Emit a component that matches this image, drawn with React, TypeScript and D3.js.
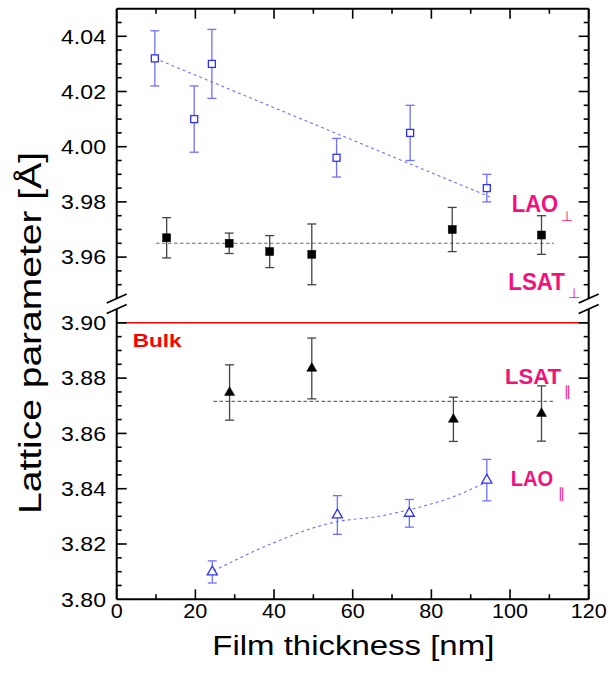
import React from "react";
import * as d3 from "d3";

// ---------- data ----------
const laoPerpX = [9.7, 19.7, 24.2, 55.9, 74.6, 94.1];
const laoPerpY = [4.032, 4.010, 4.030, 3.996, 4.005, 3.985];
const laoPerpErr = [0.010, 0.012, 0.0125, 0.007, 0.010, 0.005];
const laoPerpFitX = [9.7, 94.9];
const laoPerpFitY = [4.032, 3.9818];

const lsatPerpX = [12.7, 28.6, 38.9, 49.6, 85.3, 108];
const lsatPerpY = [3.967, 3.965, 3.962, 3.961, 3.970, 3.968];
const lsatPerpErr = [0.0073, 0.0037, 0.0058, 0.011, 0.008, 0.007];
const lsatPerpFitX = [10, 111.2];
const lsatPerpFitY = [3.965, 3.965];

const lsatParX = [28.7, 49.6, 85.6, 108];
const lsatParY = [3.8748, 3.8835, 3.8651, 3.8672];
const lsatParErr = [0.010, 0.011, 0.008, 0.010];
const lsatParFitX = [24.6, 111.2];
const lsatParFitY = [3.8716, 3.8716];

const laoParX = [24.3, 56.1, 74.4, 94.1];
const laoParY = [3.8099, 3.8305, 3.8311, 3.8431];
const laoParErr = [0.004, 0.007, 0.005, 0.0075];
const laoParFitX = [24.6, 40, 49.7, 56.1, 66.1, 74.4, 85.6, 93.5];
const laoParFitY = [3.8103, 3.8205, 3.8257, 3.8281, 3.8299, 3.8324, 3.8371, 3.842];

const bulkValue = 3.90;

const xTicks = [0, 20, 40, 60, 80, 100, 120];
const yTopTicks = [3.96, 3.98, 4.0, 4.02, 4.04];
const yBotTicks = [3.8, 3.82, 3.84, 3.86, 3.88, 3.9];

// ---------- layout ----------
const W = 611, H = 678;
const L = 116.7, R = 588.7, T = 8.7, B = 599.3;
const breakTop = 298.5, breakBot = 309;

const x = d3.scaleLinear().domain([0, 120]).range([L, R]);
const yTop = d3.scaleLinear().domain([3.945, 4.05]).range([breakTop, T]);
const yBot = d3.scaleLinear().domain([3.8, 3.905]).range([B, breakBot]);

const BLUE = "#2f2fff";
const BLUE_LIGHT = "#7070ff";
const PINK = "#f3127c";
const FONT = "'Liberation Sans', Arial, Helvetica, sans-serif";

function minorTicks(lo: number, hi: number, step: number) {
  const out: number[] = [];
  const n0 = Math.ceil(lo / step - 1e-6);
  const n1 = Math.floor(hi / step + 1e-6);
  for (let i = n0; i <= n1; i++) out.push(+(i * step).toFixed(4));
  return out;
}

// width of a numeric tick label in the reference's (wide) font
function labelWidth(s: string) {
  let w = 0;
  for (const c of s) w += c === "." ? 9 : 12;
  return w;
}

type Props = {
  xs: number[]; ys: number[]; errs: number[];
  y: d3.ScaleLinear<number, number>;
  barColor: string;
  kind: "sqOpen" | "sqFill" | "triOpen" | "triFill";
  color: string;
};

function Series({ xs, ys, errs, y, barColor, kind, color }: Props) {
  const tri = d3.symbol().type(d3.symbolTriangle).size(44)() as string;
  return (
    <g>
      {xs.map((xv, i) => {
        const cx = x(xv), hi = y(ys[i] + errs[i]), lo = y(ys[i] - errs[i]);
        return (
          <g key={"e" + i} stroke={barColor} strokeWidth={1.3}>
            <line x1={cx} x2={cx} y1={hi} y2={lo} />
            <line x1={cx - 4.5} x2={cx + 4.5} y1={hi} y2={hi} />
            <line x1={cx - 4.5} x2={cx + 4.5} y1={lo} y2={lo} />
          </g>
        );
      })}
      {xs.map((xv, i) => {
        const cx = x(xv), cy = y(ys[i]);
        if (kind === "sqOpen" || kind === "sqFill") {
          const s = kind === "sqOpen" ? 7 : 8;
          return (
            <rect key={"m" + i} x={cx - s / 2} y={cy - s / 2} width={s} height={s}
              fill={kind === "sqOpen" ? "white" : color}
              stroke={color} strokeWidth={kind === "sqOpen" ? 1.3 : 0.5} />
          );
        }
        return (
          <path key={"m" + i} d={tri} transform={`translate(${cx},${cy})`}
            fill={kind === "triOpen" ? "white" : color}
            stroke={color} strokeWidth={kind === "triOpen" ? 1.3 : 0.5} />
        );
      })}
    </g>
  );
}

function fitPath(xs: number[], ys: number[], y: d3.ScaleLinear<number, number>, curve: any) {
  const pts = xs.map((v, i) => [v, ys[i]] as [number, number]);
  return d3.line<[number, number]>().x(d => x(d[0])).y(d => y(d[1])).curve(curve)(pts) as string;
}

export default function App() {
  const xMinor = minorTicks(0, 120, 10);
  const yTopMinor = minorTicks(3.9451, 4.0499, 0.005);
  const yBotMinor = minorTicks(3.8001, 3.9049, 0.005);
  const isMajor = (v: number, step: number) => Math.abs(v / step - Math.round(v / step)) < 1e-6;

  const yTickMarks = (vals: number[], y: d3.ScaleLinear<number, number>) =>
    vals.map((v, i) => {
      const len = isMajor(v, 0.02) ? 10 : 5;
      const yy = y(v);
      return (
        <g key={i} stroke="#000" strokeWidth={1.6}>
          <line x1={L} x2={L + len} y1={yy} y2={yy} />
          <line x1={R} x2={R - len} y1={yy} y2={yy} />
        </g>
      );
    });

  const slash = (cx: number, cy: number, k: string) => (
    <line key={k} x1={cx - 10} y1={cy + 4.5} x2={cx + 10} y2={cy - 4.5} stroke="#000" strokeWidth={1.8} />
  );

  return (
    <svg width={W} height={H} style={{ position: "absolute", left: 0, top: 0, background: "white" }}
      fontFamily={FONT}>
      <rect x={0} y={0} width={W} height={H} fill="white" />

      {/* bulk line */}
      <line x1={L} x2={R} y1={yBot(bulkValue)} y2={yBot(bulkValue)} stroke="#ff0000" strokeWidth={1.6} />
      <text x={132.7} y={347.3} fill="#ff0000" fontWeight="bold" fontSize={18.5}
        textLength={49} lengthAdjust="spacingAndGlyphs">Bulk</text>

      {/* fits */}
      <path d={fitPath(lsatPerpFitX, lsatPerpFitY, yTop, d3.curveLinear)} fill="none" stroke="#6a6a6a" strokeWidth={1.1} strokeDasharray="3.5,2.5" />
      <path d={fitPath(lsatParFitX, lsatParFitY, yBot, d3.curveLinear)} fill="none" stroke="#6a6a6a" strokeWidth={1.1} strokeDasharray="3.5,2.5" />
      <path d={fitPath(laoPerpFitX, laoPerpFitY, yTop, d3.curveLinear)} fill="none" stroke={BLUE_LIGHT} strokeWidth={1.1} strokeDasharray="3,3" />
      <path d={fitPath(laoParFitX, laoParFitY, yBot, d3.curveMonotoneX)} fill="none" stroke={BLUE_LIGHT} strokeWidth={1.1} strokeDasharray="3,3" />

      {/* series */}
      <Series xs={laoPerpX} ys={laoPerpY} errs={laoPerpErr} y={yTop} barColor={BLUE_LIGHT} kind="sqOpen" color={BLUE} />
      <Series xs={lsatPerpX} ys={lsatPerpY} errs={lsatPerpErr} y={yTop} barColor="#444" kind="sqFill" color="#000" />
      <Series xs={lsatParX} ys={lsatParY} errs={lsatParErr} y={yBot} barColor="#444" kind="triFill" color="#000" />
      <Series xs={laoParX} ys={laoParY} errs={laoParErr} y={yBot} barColor={BLUE_LIGHT} kind="triOpen" color={BLUE} />

      {/* frame */}
      <g stroke="#000" strokeWidth={2} fill="none">
        <line x1={L} x2={R} y1={T} y2={T} />
        <line x1={L} x2={R} y1={B} y2={B} />
        <line x1={L} x2={L} y1={T} y2={breakTop} />
        <line x1={L} x2={L} y1={breakBot} y2={B} />
        <line x1={R} x2={R} y1={T} y2={breakTop} />
        <line x1={R} x2={R} y1={breakBot} y2={B} />
      </g>
      {slash(L, breakTop, "s1")}
      {slash(L, breakBot, "s2")}
      {slash(R, breakTop, "s3")}
      {slash(R, breakBot, "s4")}

      {/* ticks */}
      {yTickMarks(yTopMinor, yTop)}
      {yTickMarks(yBotMinor, yBot)}
      {xMinor.map((v, i) => {
        const len = isMajor(v, 20) ? 10 : 5;
        const xx = x(v);
        return (
          <g key={"xt" + i} stroke="#000" strokeWidth={1.6}>
            <line x1={xx} x2={xx} y1={B} y2={B - len} />
            <line x1={xx} x2={xx} y1={T} y2={T + len} />
          </g>
        );
      })}

      {/* tick labels */}
      <g fontSize={20} fill="#000">
        {yTopTicks.map((v, i) => (
          <text key={"yl" + i} x={106} y={yTop(v)} dy="0.36em" textAnchor="end"
            textLength={labelWidth(v.toFixed(2))} lengthAdjust="spacingAndGlyphs">{v.toFixed(2)}</text>
        ))}
        {yBotTicks.map((v, i) => (
          <text key={"yb" + i} x={106} y={yBot(v)} dy="0.36em" textAnchor="end"
            textLength={labelWidth(v.toFixed(2))} lengthAdjust="spacingAndGlyphs">{v.toFixed(2)}</text>
        ))}
        {xTicks.map((v, i) => (
          <text key={"xl" + i} x={x(v)} y={618.3} textAnchor="middle"
            textLength={labelWidth(String(v))} lengthAdjust="spacingAndGlyphs">{v}</text>
        ))}
      </g>

      {/* axis titles */}
      <text x={353.3} y={655} fontSize={27} textAnchor="middle" textLength={282} lengthAdjust="spacingAndGlyphs">Film thickness [nm]</text>
      <text transform="translate(41,333) rotate(-90)" fontSize={32} textAnchor="middle" textLength={362} lengthAdjust="spacingAndGlyphs">Lattice parameter [Å]</text>

      {/* series labels */}
      <g fill={PINK}>
        <text x={511.7} y={212.3} fontWeight="bold" fontSize={24} textLength={46.6} lengthAdjust="spacingAndGlyphs">LAO</text>
        <text x={561} y={221} fontSize={14}>⊥</text>
        <text x={508.3} y={290} fontWeight="bold" fontSize={23.5} textLength={56.7} lengthAdjust="spacingAndGlyphs">LSAT</text>
        <text x={568} y={298} fontSize={14}>⊥</text>
        <text x={505} y={384} fontWeight="bold" fontSize={22.5} textLength={56} lengthAdjust="spacingAndGlyphs">LSAT</text>
        <text x={563.5} y={396} fontSize={14}>∥</text>
        <text x={510.7} y={485.7} fontWeight="bold" fontSize={22.5} textLength={42.6} lengthAdjust="spacingAndGlyphs">LAO</text>
        <text x={557.5} y={497.5} fontSize={14}>∥</text>
      </g>
    </svg>
  );
}
